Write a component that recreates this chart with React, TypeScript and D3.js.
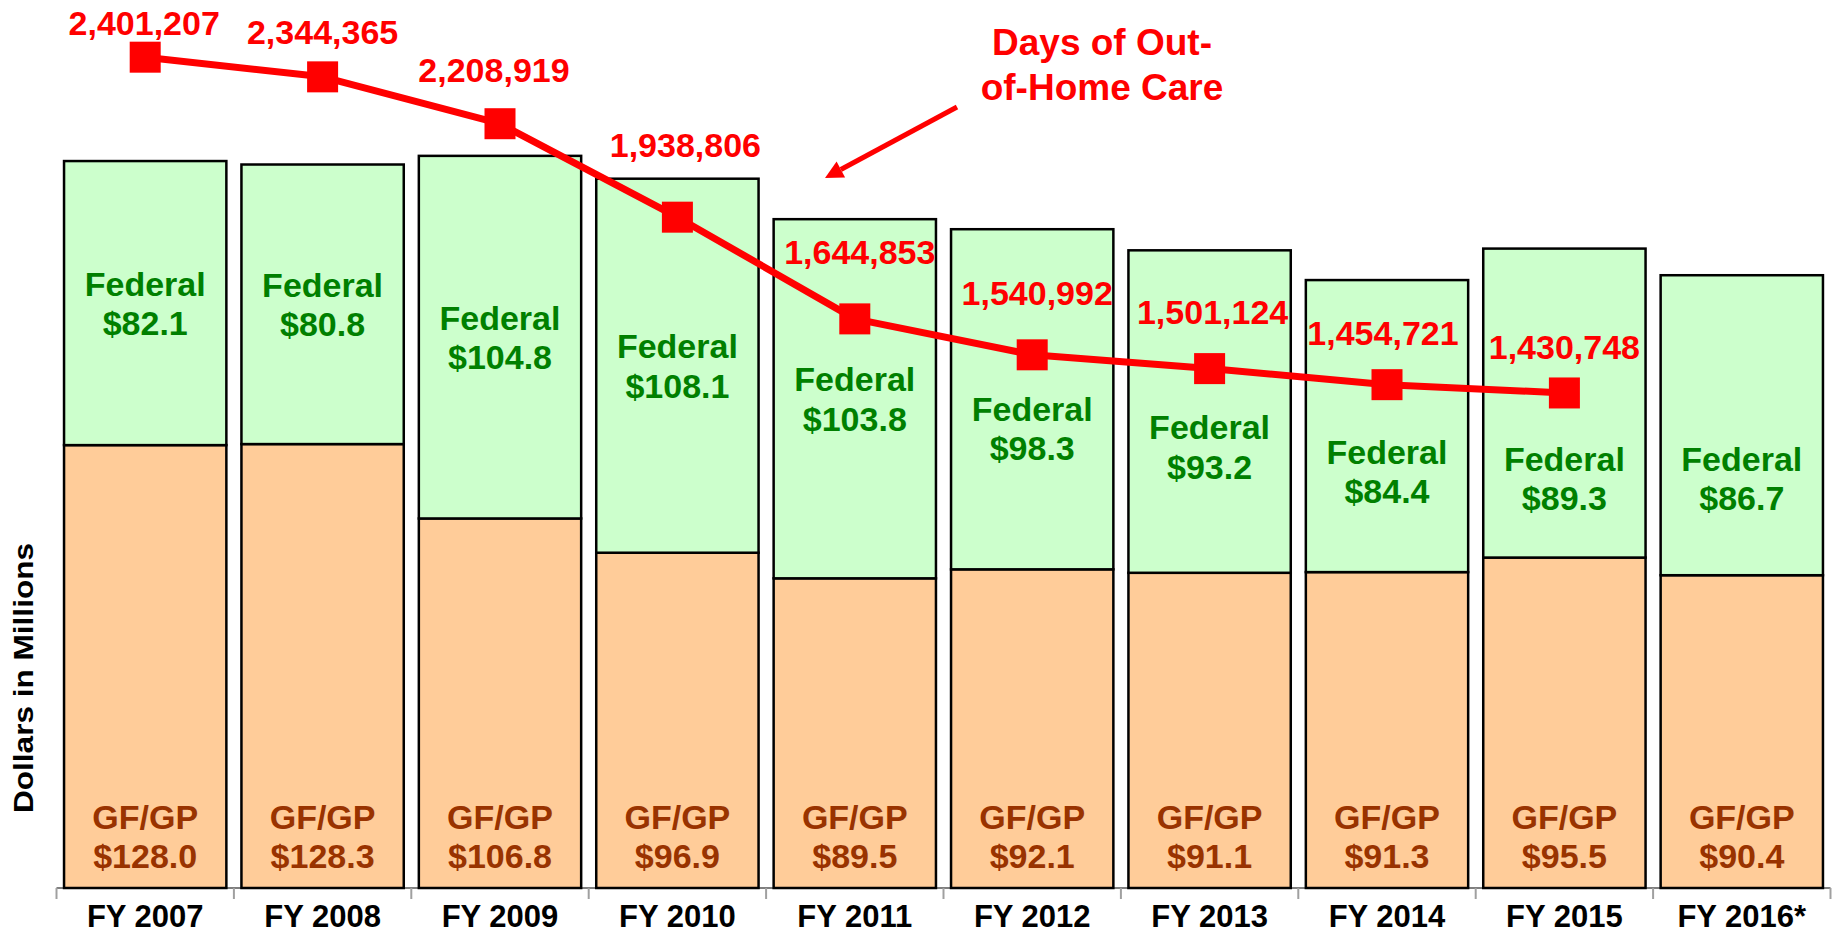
import * as d3 from 'd3';
import React from 'react';

// fiscal years on the x axis
const years = ['FY 2007', 'FY 2008', 'FY 2009', 'FY 2010', 'FY 2011', 'FY 2012', 'FY 2013', 'FY 2014', 'FY 2015', 'FY 2016*'];

// dollars in millions
const gfgp = [128.0, 128.3, 106.8, 96.9, 89.5, 92.1, 91.1, 91.3, 95.5, 90.4];
const federal = [82.1, 80.8, 104.8, 108.1, 103.8, 98.3, 93.2, 84.4, 89.3, 86.7];

// days of out-of-home care (no value for FY 2016)
const careDays = [2401207, 2344365, 2208919, 1938806, 1644853, 1540992, 1501124, 1454721, 1430748];

// hand placed label nudges, as in the original slide
const dayLabelDx = [-1, 0, -6, 8, 5, 5, 3, -4, 0];
const dayLabelDy = [22, 33, 42, 60, 55, 50, 45, 40, 34];
const fedLabelDy = [0, 0, 0, 0, 0, 29, 35, 45, 75, 53];

const W = 1833;
const H = 933;
const font = '"Liberation Sans", Arial, Helvetica, sans-serif';

export default function App() {
    const x = d3.scaleBand()
        .domain(years)
        .range([56.5, 1830.5])
        .paddingInner(0.085)
        .paddingOuter(0.0425);

    const y = d3.scaleLinear().domain([0, 250]).range([888, 23]);
    const y2 = d3.scaleLinear().domain([0, 2500000]).range([888, 23]);

    const cx = (i) => x(years[i]) + x.bandwidth() / 2;
    const fmt = d3.format(',');

    const line = d3.line()
        .x((d, i) => cx(i))
        .y(d => y2(d));

    const step = x.step();
    const ticks = d3.range(years.length + 1).map(i => x.range()[0] + i * step);
    const base = y(0);
    const mk = 31;

    // arrow pointing at the line
    const ax1 = 957, ay1 = 107, ax2 = 825, ay2 = 178;
    const ang = Math.atan2(ay2 - ay1, ax2 - ax1);
    const hl = 18, hw = 9;
    const bx = ax2 - hl * Math.cos(ang), by = ay2 - hl * Math.sin(ang);
    const head = [
        [ax2, ay2],
        [bx + hw * Math.sin(ang), by - hw * Math.cos(ang)],
        [bx - hw * Math.sin(ang), by + hw * Math.cos(ang)],
    ].map(p => p.join(',')).join(' ');

    return (
        <svg width={W} height={H} style={{ position: 'absolute', left: 0, top: 0, background: '#fff' }}
            fontFamily={font} fontWeight="bold">
            {/* x axis */}
            <line x1={ticks[0]} x2={ticks[ticks.length - 1]} y1={base} y2={base} stroke="#7f7f7f" strokeWidth={2} />
            {ticks.map((t, i) => (
                <line key={i} x1={t} x2={t} y1={base} y2={base + 11} stroke="#a0a0a0" strokeWidth={2} />
            ))}

            {/* stacked bars */}
            {years.map((yr, i) => (
                <g key={yr}>
                    <rect x={x(yr)} y={y(gfgp[i])} width={x.bandwidth()} height={base - y(gfgp[i])}
                        fill="#FFCC99" stroke="#000" strokeWidth={2.5} />
                    <rect x={x(yr)} y={y(gfgp[i] + federal[i])} width={x.bandwidth()}
                        height={y(gfgp[i]) - y(gfgp[i] + federal[i])}
                        fill="#CCFFCC" stroke="#000" strokeWidth={2.5} />
                </g>
            ))}

            {/* segment labels */}
            {years.map((yr, i) => {
                const mid = (y(gfgp[i]) + y(gfgp[i] + federal[i])) / 2 + fedLabelDy[i];
                return (
                    <g key={yr} textAnchor="middle" fontSize={34}>
                        <text x={cx(i)} y={mid - 7.5} fill="#008000">Federal</text>
                        <text x={cx(i)} y={mid + 32} fill="#008000">${federal[i].toFixed(1)}</text>
                        <text x={cx(i)} y={829} fill="#993300">GF/GP</text>
                        <text x={cx(i)} y={868} fill="#993300">${gfgp[i].toFixed(1)}</text>
                    </g>
                );
            })}

            {/* category labels */}
            {years.map((yr, i) => (
                <text key={yr} x={cx(i)} y={927} textAnchor="middle" fontSize={31} fill="#000">{yr}</text>
            ))}

            {/* y axis title */}
            <text transform="translate(33,678) rotate(-90)" textAnchor="middle" fontSize={27}
                textLength={270} lengthAdjust="spacingAndGlyphs" fill="#000">Dollars in Millions</text>

            {/* days of care line */}
            <path d={line(careDays)} fill="none" stroke="#FF0000" strokeWidth={7} strokeLinejoin="round" />
            {careDays.map((d, i) => (
                <rect key={i} x={cx(i) - mk / 2} y={y2(d) - mk / 2} width={mk} height={mk} fill="#FF0000" />
            ))}
            {careDays.map((d, i) => (
                <text key={i} x={cx(i) + dayLabelDx[i]} y={y2(d) - dayLabelDy[i]} textAnchor="middle"
                    fontSize={34} fill="#FF0000">{fmt(d)}</text>
            ))}

            {/* annotation */}
            <g textAnchor="middle" fontSize={37} fill="#FF0000">
                <text x={1102} y={55}>Days of Out-</text>
                <text x={1102} y={100}>of-Home Care</text>
            </g>
            <line x1={ax1} y1={ay1} x2={bx} y2={by} stroke="#FF0000" strokeWidth={5} />
            <polygon points={head} fill="#FF0000" />
        </svg>
    );
}
